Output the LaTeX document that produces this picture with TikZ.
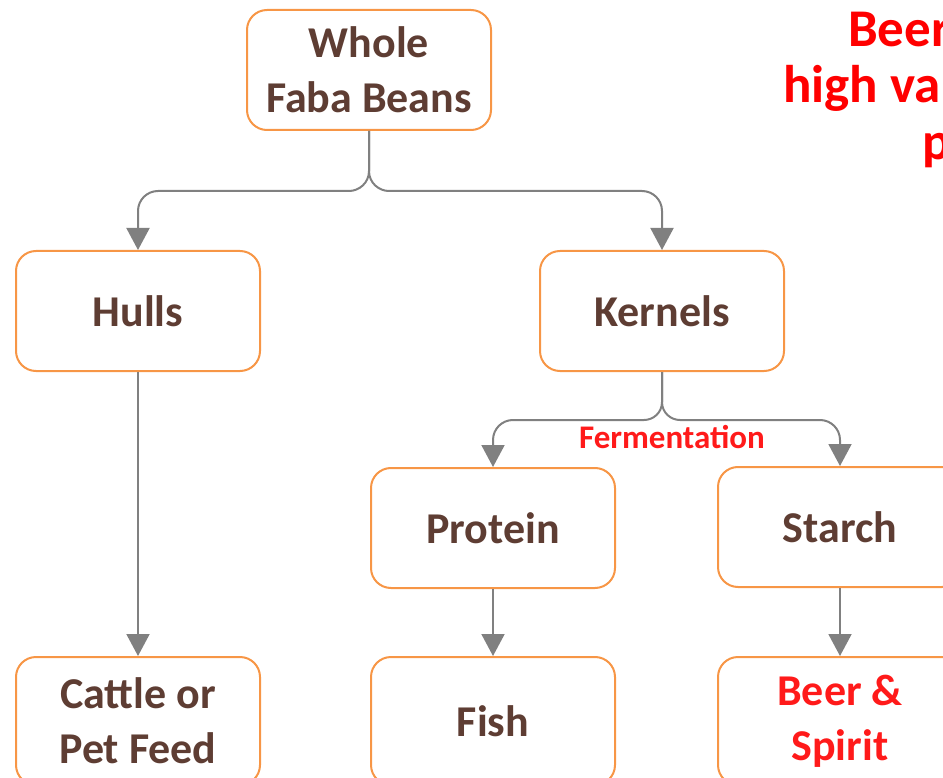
\documentclass[tikz,border=0pt]{standalone}
\usepackage{fontspec}
\setmainfont{Carlito}
\usetikzlibrary{arrows.meta}
\definecolor{boxOrange}{HTML}{F79646}
\definecolor{textBrown}{HTML}{5E3D33}
\definecolor{lineGray}{HTML}{808080}
\definecolor{noteRed}{HTML}{FF1A1A}
\tikzstyle{flow_arrow}=[line width=2pt, lineGray, -{Triangle[width=23pt,length=22pt]}]

\begin{document}
\begin{tikzpicture}[x=1pt,y=-1pt]
			\tikzset{stage/.style = {shape=rectangle, draw=boxOrange, line width=2pt, rounded corners=20pt, minimum width=244pt, minimum height=120pt, align=center, text=textBrown, font=\fontsize{44}{55}\selectfont\bfseries}}
			\tikzset{note/.style = {text=noteRed, font=\fontsize{33}{38}\selectfont\bfseries, inner sep=0pt}}
			\tikzset{headline/.style = {text=red, font=\fontsize{53}{56}\selectfont\bfseries, inner sep=0pt, anchor=base west}}
			\useasboundingbox (0,0) rectangle (943,778);

			% boxes
			\node[stage] (whole) at (369,70) {Whole\\Faba Beans};
			\node[stage] (hulls) at (138,311) {Hulls};
			\node[stage] (kernels) at (662,311) {Kernels};
			\node[stage] (protein) at (493,528) {Protein};
			\node[stage] (starch) at (840,527) {Starch};
			\node[stage, minimum height=128pt] (feed) at (138,721) {Cattle or\\Pet Feed};
			\node[stage, minimum height=128pt] (fish) at (493,721) {Fish};
			\node[stage, minimum height=128pt, text=noteRed] (beer) at (840,721) {Beer \&\\Spirit};

			% labels
			\node[note] (fermentation) at (672,437) {Fermentation};
			\node[headline] (headA) at (848,47) {Beer};
			\node[headline] (headB) at (783,103) {high va};
			\node[headline] (headC) at (922,160) {p};

			%edges
			\draw[flow_arrow] (whole.south) -- ++(0,40) .. controls +(0,12) and +(10,0) .. ++(-20,20) [rounded corners=20pt] -| (hulls.north);
			\draw[flow_arrow] (whole.south) -- ++(0,40) .. controls +(0,12) and +(-10,0) .. ++(20,20) [rounded corners=20pt] -| (kernels.north);
			\draw[flow_arrow] (kernels.south) -- ++(0,30) .. controls +(0,11) and +(9,0) .. ++(-18,18) [rounded corners=20pt] -| (protein.north);
			\draw[flow_arrow] (kernels.south) -- ++(0,30) .. controls +(0,11) and +(-9,0) .. ++(18,18) [rounded corners=20pt] -| (starch.north);
			\draw[flow_arrow] (hulls) -- (feed);
			\draw[flow_arrow] (protein) -- (fish);
			\draw[flow_arrow] (starch) -- (beer);
\end{tikzpicture}
\end{document}
